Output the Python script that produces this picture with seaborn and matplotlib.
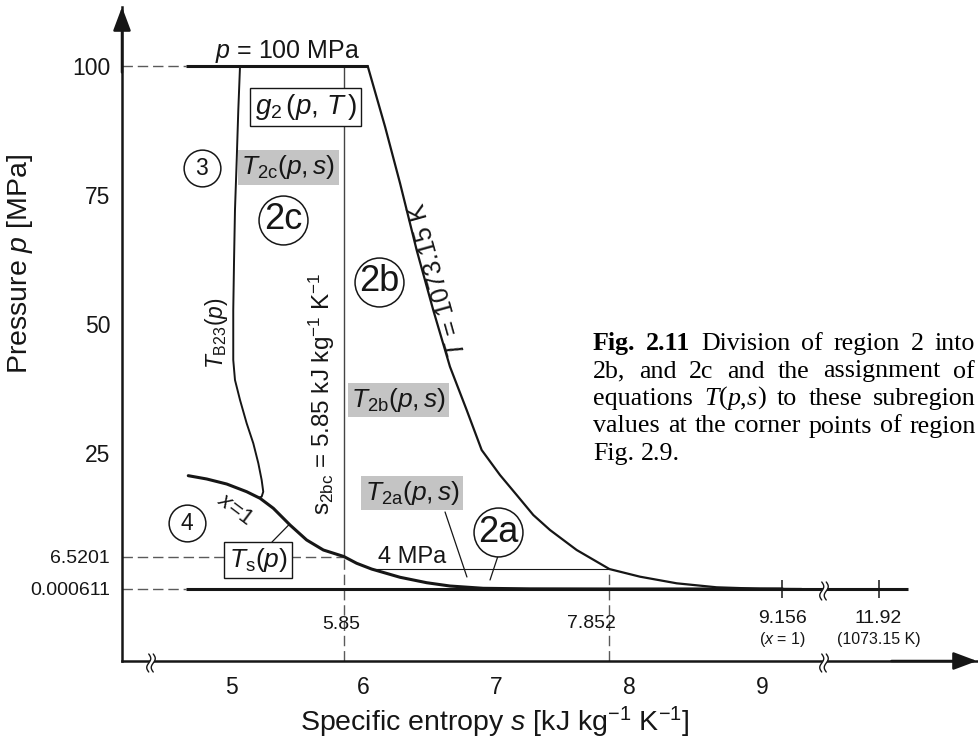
import numpy as np
import matplotlib
matplotlib.use("Agg")
import matplotlib.pyplot as plt
import matplotlib.transforms as mtransforms
from matplotlib.lines import Line2D
from matplotlib.patches import Polygon
import seaborn as sns

INK = "#161616"
GUIDE = "#5a5a5a"
SHADE = "#c4c4c4"

sns.set_theme(style="white", rc={
    "axes.edgecolor": INK, "text.color": INK, "xtick.color": INK,
    "ytick.color": INK, "axes.labelcolor": INK,
})
plt.rcParams["font.family"] = ["Liberation Sans", "DejaVu Sans"]
plt.rcParams["mathtext.fontset"] = "custom"
plt.rcParams["mathtext.rm"] = "Liberation Sans"
plt.rcParams["mathtext.it"] = "Liberation Sans:italic"
plt.rcParams["mathtext.bf"] = "Liberation Sans:bold"

# ---- characteristic values of region 2 (s in kJ kg-1 K-1, p in MPa) ----
P_MAX = 100.0
P_MIN = 0.000611
P_2AB = 4.0
P_2BC = 6.5201
S_2BC = 5.85
S_2AB_T = 7.852      # 1073.15 K isotherm at 4 MPa
S_SAT_LOW = 9.156    # saturated vapour at the triple-point pressure
S_T_LOW = 11.92      # 1073.15 K at the triple-point pressure
S_EDGE = 4.661       # left end of the p = const boundary lines
S_LINE_END = 13.2    # right end of the bottom boundary line
S_2AB_SAT = 6.06     # 4 MPa on the saturated-vapour line

x_ticks = [5, 6, 7, 8, 9]
y_ticks = [P_MIN, P_2BC, 25, 50, 75, 100]
y_tick_labels = ["0.000611", "6.5201", "25", "50", "75", "100"]

# saturated-vapour line x = 1
sat_s = [4.678, 4.817, 4.968, 5.118, 5.219, 5.319, 5.445, 5.570, 5.696, 5.85,
         5.947, 6.06, 6.274, 6.475, 6.650, 6.901, 7.25, 7.8, 9.156]
sat_p = [20.95, 20.36, 19.46, 18.09, 16.91, 15.13, 12.14, 9.47, 7.68, 6.5201,
         5.16, 4.0, 2.35, 1.26, 0.60, 0.14, 0.03, 0.003, 0.000611]

# boundary line B23 between regions 2 and 3
b23_s = [5.068, 5.055, 5.043, 5.030, 5.023, 5.017, 5.017, 5.030, 5.068, 5.118,
         5.168, 5.206, 5.231, 5.243, 5.231, 5.21]
b23_p = [100, 91.47, 81.78, 72.09, 62.40, 52.71, 43.02, 39.15, 35.27, 30.76,
         26.88, 23.16, 20.18, 18.09, 17.2, 17.0]

# isotherm T = 1073.15 K
tmax_s = [6.03, 6.161, 6.274, 6.399, 6.524, 6.650, 6.776, 6.889, 7.027, 7.153,
          7.278, 7.404, 7.605, 7.852, 8.082, 8.359, 8.660, 8.987, 9.3]
tmax_p = [100, 88.24, 77.27, 64.34, 52.71, 41.73, 33.33, 25.58, 21.07, 17.50,
          13.93, 11.25, 7.68, 4.0, 2.47, 1.14, 0.34, 0.05, 0.000611]

# region markers
region_labels = ["3", "4", "2c", "2b", "2a"]
region_s = [4.781, 4.668, 5.392, 6.115, 7.012]
region_p = [80.23, 12.5, 70.16, 58.14, 10.89]


def piecewise(xk, yk):
    """Piecewise-linear map with linear extrapolation at both ends."""
    xk = np.asarray(xk, float)
    yk = np.asarray(yk, float)
    lo = (yk[1] - yk[0]) / (xk[1] - xk[0])
    hi = (yk[-1] - yk[-2]) / (xk[-1] - xk[-2])

    def f(v):
        v = np.asarray(v, float)
        out = np.interp(v, xk, yk)
        out = np.where(v < xk[0], yk[0] + (v - xk[0]) * lo, out)
        out = np.where(v > xk[-1], yk[-1] + (v - xk[-1]) * hi, out)
        return out
    return f


# broken entropy axis (compressed beyond 9.45) and a stretched low-pressure band
SX = ([5.0, 9.45, 11.92], [0.0, 590.5, 647.6])
SY = ([0.0, P_2BC, 25.0, 100.0], [0.0, 32.5, 136.0, 523.0])
fx, fx_inv = piecewise(*SX), piecewise(SX[1], SX[0])
fy, fy_inv = piecewise(*SY), piecewise(SY[1], SY[0])

W, H = 979, 743
X0, Y0 = 231, 589                    # pixel of s = 5 and of p = 0
AX_L, AX_R, AX_B, AX_T = 122, 977, 661, 7
fig = plt.figure(figsize=(W / 100, H / 100), dpi=100)
ax = fig.add_axes([AX_L / W, 1 - AX_B / H, (AX_R - AX_L) / W, (AX_B - AX_T) / H])
ax.set_xscale("function", functions=(fx, fx_inv))
ax.set_yscale("function", functions=(fy, fy_inv))
x_lo, x_hi = float(fx_inv(AX_L - X0)), float(fx_inv(AX_R - X0))
y_lo, y_hi = float(fy_inv(Y0 - AX_B)), float(fy_inv(Y0 - AX_T))
ax.set_xlim(x_lo, x_hi)
ax.set_ylim(y_lo, y_hi)

# ---- guide lines ----
dash = dict(color=GUIDE, lw=1.0, dashes=(7.5, 3.5), zorder=1)
ax.plot([x_lo, S_EDGE], [P_MAX, P_MAX], **dash)
ax.plot([x_lo, S_EDGE], [P_MIN, P_MIN], **dash)
ax.plot([x_lo, S_2BC], [P_2BC, P_2BC], **dash)
ax.plot([S_2BC, S_2BC], [y_lo, P_2BC], **dash)
ax.plot([S_2AB_T, S_2AB_T], [y_lo, P_2AB], **dash)
ax.plot([S_2BC, S_2BC], [P_2BC, P_MAX], color="#444444", lw=1.0, zorder=2)
ax.plot([S_2AB_SAT, S_2AB_T], [P_2AB, P_2AB], color=INK, lw=0.8, zorder=2)

# ---- region boundaries ----
ax.plot([S_EDGE, tmax_s[0]], [P_MAX, P_MAX], color=INK, lw=2.2, solid_capstyle="butt", zorder=3)
ax.plot([S_EDGE, S_LINE_END], [P_MIN, P_MIN], color=INK, lw=2.2, solid_capstyle="butt", zorder=3)
sns.lineplot(x=sat_s, y=sat_p, sort=False, estimator=None, color=INK, linewidth=2.2, ax=ax, zorder=3)
sns.lineplot(x=tmax_s, y=tmax_p, sort=False, estimator=None, color=INK, linewidth=1.6, ax=ax, zorder=3)
sns.lineplot(x=b23_s, y=b23_p, sort=False, estimator=None, color=INK, linewidth=1.4, ax=ax, zorder=3)
for s_mark in (S_SAT_LOW, S_T_LOW):
    ax.plot([s_mark], [P_MIN], marker="|", markersize=13, mew=1.1, color=INK, zorder=3)

# leader lines
ax.plot([6.613, 6.778], [14.47, 2.41], color=INK, lw=0.9)
ax.plot([7.012, 6.952], [6.61, 1.81], color=INK, lw=0.9)
ax.plot([5.309, 5.437], [9.11, 12.2], color=INK, lw=0.9)

# ---- region circles ----
for lab, s_c, p_c in zip(region_labels, region_s, region_p):
    big = len(lab) > 1
    ax.scatter([s_c], [p_c], s=1240 if big else 700, facecolors="white",
               edgecolors=INK, linewidths=1.1, zorder=4)
    ax.text(s_c, p_c, lab, ha="center", va="center", fontsize=26 if big else 16.5, zorder=5)

# ---- equation labels ----
shade_box = dict(boxstyle="square,pad=0.12", fc=SHADE, ec="none")
white_box = dict(boxstyle="square,pad=0.16", fc="white", ec=INK, lw=1.0)
ax.text(5.433, 80.33, r"$T_{\mathrm{2c}}(p,s)$", ha="center", va="center", fontsize=19, bbox=shade_box, zorder=5)
ax.text(6.262, 35.27, r"$T_{\mathrm{2b}}(p,s)$", ha="center", va="center", fontsize=19, bbox=shade_box, zorder=5)
ax.text(6.364, 17.86, r"$T_{\mathrm{2a}}(p,s)$", ha="center", va="center", fontsize=19, bbox=shade_box, zorder=5)
ax.text(5.565, 92.05, r"$g_2\,(p,\,T\,)$", ha="center", va="center", fontsize=20, bbox=white_box, zorder=5)
ax.text(5.203, 5.82, r"$T_{\mathrm{s}}(p)$", ha="center", va="center", fontsize=19, bbox=white_box, zorder=5)

ax.text(5.426, 101.55, r"$p$ = 100 MPa", ha="center", va="baseline", fontsize=18)
ax.text(6.368, 5.15, "4 MPa", ha="center", va="baseline", fontsize=17)
ax.text(4.887, 48.26, r"$T_{\mathrm{B23}}(p)$", ha="center", va="center", rotation=90,
        rotation_mode="anchor", fontsize=16.5)
ax.text(5.686, 36.53, r"s$_{\mathrm{2bc}}$ = 5.85 kJ kg$^{-1}$ K$^{-1}$", ha="center", va="center",
        rotation=90, rotation_mode="anchor", fontsize=17.5)
ax.text(6.560, 58.5, r"$T$ = 1073.15 K", ha="center", va="center", rotation=105.6,
        rotation_mode="anchor", fontsize=18)
ax.text(5.030, 14.82, r"$x$=1", ha="center", va="center", rotation=-37,
        rotation_mode="anchor", fontsize=16)

# values marked under the bottom boundary
ax.text(5.83, -7.22, "5.85", ha="center", va="center", fontsize=14)
ax.text(7.72, -7.02, "7.852", ha="center", va="center", fontsize=14)
ax.text(S_SAT_LOW, -5.92, "9.156", ha="center", va="center", fontsize=14)
ax.text(S_SAT_LOW, -10.13, r"($x$ = 1)", ha="center", va="center", fontsize=11.5)
ax.text(S_T_LOW, -5.92, "11.92", ha="center", va="center", fontsize=14)
ax.text(S_T_LOW, -10.13, "(1073.15 K)", ha="center", va="center", fontsize=11.5)

# ---- axes ----
sns.despine(ax=ax)
for side in ("left", "bottom"):
    ax.spines[side].set_linewidth(1.8)
ax.set_xticks(x_ticks)
ax.set_xticklabels([str(v) for v in x_ticks])
ax.set_xticks([S_SAT_LOW, S_T_LOW], minor=True)
ax.tick_params(axis="x", which="major", direction="in", length=11, width=1.6, labelsize=16.5, pad=10.5)
ax.tick_params(axis="x", which="minor", direction="in", length=7, width=1.0)
ax.set_yticks(y_ticks)
ax.set_yticklabels(y_tick_labels)
ax.tick_params(axis="y", direction="in", length=10, width=1.6, labelsize=16.5, pad=8.5)
for val, tk in zip(y_ticks, ax.yaxis.get_major_ticks()):
    if val < 10:
        tk.tick1line.set_visible(False)
        tk.label1.set_fontsize(14)
ax.xaxis.get_major_ticks()[4].tick1line.set_markersize(6.5)
ax.xaxis.get_minor_ticks()[1].tick1line.set_markersize(11)
ax.grid(False)

ax.text(0.436, -0.0933, r"Specific entropy $s$ [kJ kg$^{-1}$ K$^{-1}$]", transform=ax.transAxes,
        ha="center", va="center", fontsize=20.5)
ax.text(-0.1193, 0.607, r"Pressure $p$ [MPa]", transform=ax.transAxes, rotation=90,
        ha="center", va="center", fontsize=20.5)

arrow = dict(arrowstyle="-|>,head_length=1.2,head_width=0.45", color=INK, lw=1.8,
             shrinkA=0, shrinkB=0)
ax.annotate("", xy=(0, 1), xytext=(0, 0.9), xycoords="axes fraction", arrowprops=arrow,
            annotation_clip=False)
ax.annotate("", xy=(1, 0), xytext=(0.9, 0), xycoords="axes fraction", arrowprops=arrow,
            annotation_clip=False)

# ---- axis-break marks ----
ident = mtransforms.IdentityTransform()


def break_mark(s, p, half=9.0, gap=4.5):
    x0, y0 = ax.transData.transform((s, p))
    t = np.linspace(-1, 1, 40)
    wig = 2.0 * np.sin(np.pi * t)
    ys = y0 - 2 + half * t
    xl, xr = x0 - gap / 2 + wig, x0 + gap / 2 + wig
    poly = np.column_stack([np.r_[xl, xr[::-1]], np.r_[ys, ys[::-1]]])
    fig.add_artist(Polygon(poly, closed=True, fc="white", ec="none", transform=ident, zorder=6))
    for xs in (xl, xr):
        fig.add_artist(Line2D(xs, ys, color=INK, lw=1.0, transform=ident, zorder=7))


break_mark(float(fx_inv(151 - X0)), y_lo)
break_mark(float(fx_inv(824 - X0)), y_lo)
break_mark(float(fx_inv(824 - X0)), P_MIN)

# ---- caption ----
renderer = fig.canvas.get_renderer()
CAP_SIZE = 18.7


def caption_line(y_px, words, x_left, x_right=None):
    pieces = []
    for word in words:
        arts = []
        for txt, style, weight in word:
            arts.append(fig.text(0, 0, txt, transform=ident, fontsize=CAP_SIZE,
                                 family="Liberation Serif", style=style, weight=weight,
                                 ha="left", va="baseline", color="black"))
        pieces.append(arts)
    widths = [[a.get_window_extent(renderer).width for a in arts] for arts in pieces]
    total = sum(sum(w) for w in widths)
    space = CAP_SIZE * 100 / 72 * 0.25
    if x_right is not None and len(words) > 1:
        space = (x_right - x_left - total) / (len(words) - 1)
    x = x_left
    for arts, ws in zip(pieces, widths):
        for a, w in zip(arts, ws):
            a.set_position((x, H - y_px))
            x += w
        x += space


def plain(text):
    return [[(w, "normal", "normal")] for w in text.split()]


CAP_X = 593
caption_line(350, [[("Fig.", "normal", "bold")], [("2.11", "normal", "bold")]]
             + plain("Division of region 2 into"), CAP_X, 975)
caption_line(377.5, plain("2b, and 2c and the assignment of"), CAP_X, 975)
caption_line(405, plain("equations")
             + [[("T", "italic", "normal"), ("(", "normal", "normal"), ("p", "italic", "normal"),
                 (",", "normal", "normal"), ("s", "italic", "normal"), (")", "normal", "normal")]]
             + plain("to these subregion"), CAP_X, 976)
caption_line(432.5, plain("values at the corner points of region"), CAP_X, 976)
caption_line(460, plain("Fig. 2.9."), CAP_X)

fig.savefig("out.png", dpi=100)
